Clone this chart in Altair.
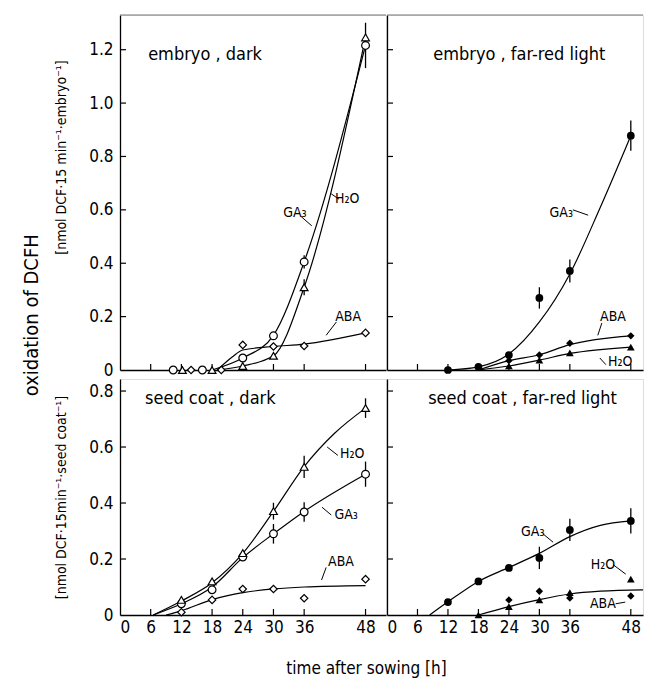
import altair as alt
import pandas as pd

FONT = "Liberation Sans Narrow, DejaVu Sans Condensed, Roboto Condensed, Roboto"

# ---------------- axes ----------------
x_label_values = [0, 6, 12, 18, 24, 30, 36, 48]
x_tick_values = [6, 12, 18, 24, 30, 36, 48]
y_vals_embryo = [0, 0.2, 0.4, 0.6, 0.8, 1.0, 1.2]
y_vals_coat = [0, 0.2, 0.4, 0.6, 0.8]

# ---------------- embryo, dark ----------------
ed_ga3_x = [10.4, 16.1, 24, 30, 36, 48]
ed_ga3_y = [0.0, 0.0, 0.045, 0.128, 0.405, 1.216]
ed_ga3_e = [0, 0, 0, 0, 0.025, 0.085]
ed_h2o_x = [12.2, 18.0, 24, 30, 36, 48]
ed_h2o_y = [0.0, 0.0, 0.015, 0.053, 0.31, 1.246]
ed_h2o_e = [0, 0, 0, 0, 0.03, 0]
ed_aba_x = [13.9, 19.8, 24, 30, 36, 48]
ed_aba_y = [0.0, 0.0, 0.094, 0.088, 0.09, 0.139]
ed_ga3_cx = [18, 24, 30, 36, 48]
ed_ga3_cy = [0.0, 0.045, 0.13, 0.405, 1.216]
ed_h2o_cx = [19, 24, 30, 36, 48]
ed_h2o_cy = [0.0, 0.015, 0.053, 0.31, 1.246]
ed_aba_cx = [19, 22, 24, 30, 36, 48]
ed_aba_cy = [0.0, 0.05, 0.075, 0.088, 0.097, 0.139]
ed_lab_t = ["GA₃", "H₂O", "ABA"]
ed_lab_x = [34.2, 44.4, 44.6]
ed_lab_y = [0.59, 0.64, 0.2]
ed_lead_x = [35.4, 41.3, 42.3]
ed_lead_y = [0.575, 0.66, 0.18]
ed_lead_x2 = [37.5, 42.8, 40.3]
ed_lead_y2 = [0.54, 0.64, 0.13]

# ---------------- embryo, far-red light ----------------
ef_ga3_x = [12, 18, 24, 30, 36, 48]
ef_ga3_y = [0.0, 0.012, 0.056, 0.27, 0.371, 0.878]
ef_ga3_e = [0, 0, 0, 0.04, 0.043, 0.057]
ef_h2o_x = [24, 30, 36, 48]
ef_h2o_y = [0.015, 0.037, 0.064, 0.086]
ef_h2o_e = [0, 0, 0, 0]
ef_aba_x = [24, 30, 36, 48]
ef_aba_y = [0.035, 0.056, 0.10, 0.128]
ef_ga3_cx = [12, 18, 24, 30, 36, 42, 48]
ef_ga3_cy = [0.0, 0.012, 0.06, 0.18, 0.36, 0.61, 0.878]
ef_h2o_cx = [18, 24, 30, 36, 48]
ef_h2o_cy = [0.0, 0.015, 0.037, 0.062, 0.086]
ef_aba_cx = [18, 24, 30, 36, 48]
ef_aba_cy = [0.0, 0.035, 0.057, 0.095, 0.128]
ef_lab_t = ["GA₃", "ABA", "H₂O"]
ef_lab_x = [34.3, 44.5, 45.9]
ef_lab_y = [0.59, 0.2, 0.03]
ef_lead_x = [36.6, 42.3, 41.9]
ef_lead_y = [0.6, 0.176, 0.045]
ef_lead_x2 = [39.6, 41.5, 43.1]
ef_lead_y2 = [0.58, 0.13, 0.02]

# ---------------- seed coat, dark ----------------
sd_ga3_x = [12, 18, 24, 30, 36, 48]
sd_ga3_y = [0.04, 0.09, 0.207, 0.29, 0.368, 0.503]
sd_ga3_e = [0, 0, 0, 0.035, 0.035, 0.045]
sd_h2o_x = [12, 18, 24, 30, 36, 48]
sd_h2o_y = [0.054, 0.12, 0.221, 0.371, 0.529, 0.739]
sd_h2o_e = [0, 0, 0, 0.03, 0.04, 0.035]
sd_aba_x = [12, 18, 24, 30, 36, 48]
sd_aba_y = [0.01, 0.054, 0.093, 0.093, 0.06, 0.128]
sd_ga3_cx = [6.5, 12, 18, 24, 30, 36, 48]
sd_ga3_cy = [0.0, 0.04, 0.10, 0.205, 0.29, 0.37, 0.503]
sd_h2o_cx = [6.5, 12, 18, 24, 30, 36, 42, 48]
sd_h2o_cy = [0.0, 0.05, 0.115, 0.22, 0.37, 0.53, 0.65, 0.739]
sd_aba_cx = [9, 12, 18, 24, 30, 36, 48]
sd_aba_cy = [0.0, 0.015, 0.055, 0.08, 0.093, 0.1, 0.105]
sd_lab_t = ["H₂O", "GA₃", "ABA"]
sd_lab_x = [45.4, 44.2, 43.2]
sd_lab_y = [0.575, 0.357, 0.19]
sd_lead_x = [40.5, 39.5, 40.3]
sd_lead_y = [0.6, 0.385, 0.17]
sd_lead_x2 = [42.6, 41.3, 39.4]
sd_lead_y2 = [0.57, 0.357, 0.125]

# ---------------- seed coat, far-red light ----------------
sf_ga3_x = [12, 18, 24, 30, 36, 48]
sf_ga3_y = [0.046, 0.12, 0.168, 0.204, 0.304, 0.336]
sf_ga3_e = [0, 0, 0, 0.04, 0.04, 0.045]
sf_h2o_x = [18, 24, 30, 36, 48]
sf_h2o_y = [0.0, 0.03, 0.054, 0.08, 0.128]
sf_h2o_e = [0, 0, 0, 0, 0]
sf_aba_x = [24, 30, 36, 48]
sf_aba_y = [0.054, 0.085, 0.061, 0.068]
sf_ga3_cx = [8.4, 12, 18, 24, 30, 36, 42, 48]
sf_ga3_cy = [0.0, 0.047, 0.12, 0.17, 0.22, 0.28, 0.32, 0.336]
sf_mix_cx = [18, 24, 30, 36, 42, 50.4]
sf_mix_cy = [0.0, 0.03, 0.055, 0.075, 0.085, 0.09]
sf_lab_t = ["GA₃", "H₂O", "ABA"]
sf_lab_x = [28.7, 42.5, 42.5]
sf_lab_y = [0.296, 0.18, 0.04]
sf_lead_x = [30.7, 44.5, 45.0]
sf_lead_y = [0.29, 0.18, 0.04]
sf_lead_x2 = [32.7, 47.0, 46.9]
sf_lead_y2 = [0.26, 0.146, 0.046]

# panel titles
panel_titles = ["embryo , dark", "embryo , far-red light", "seed coat , dark", "seed coat , far-red light"]
panel_title_x = [5.5, 9.1, 4.9, 8.1]
panel_title_y = [1.18, 1.18, 0.77, 0.77]

W_LEFT, W_RIGHT = 266, 256
H_TOP, H_BOT = 355, 236
XMAX_LEFT, XMAX_RIGHT = 52.0, 50.4
YMAX_TOP, YMAX_BOT = 1.33, 0.843


def make_panel(series, curves, labels, leaders, title_idx, width, height, xmax, ymax,
               yvals, filled, show_xlab, show_ylab, ytitle=None, ytitle_y=None,
               xtitle=None, top_line=False):
    xaxis_kw = dict(values=x_label_values, labels=show_xlab, ticks=False, grid=False,
                    domainColor="black", domainWidth=1.3, labelPadding=4,
                    labelFontSize=17, labelFont=FONT, labelColor="black")
    if xtitle:
        xaxis_kw.update(title=xtitle, titleFont=FONT, titleFontSize=17,
                        titleFontWeight="normal", titleColor="black",
                        titleX=246, titlePadding=25)
    else:
        xaxis_kw.update(title="")
    yaxis_kw = dict(values=yvals, labels=show_ylab, ticks=False, grid=False,
                    domainColor="black", domainWidth=1.3, labelPadding=7,
                    labelFontSize=17, labelFont=FONT, labelColor="black",
                    labelExpr="datum.value == 0 ? '0' : format(datum.value, '.1f')")
    if ytitle:
        yaxis_kw.update(title=ytitle, titleFont=FONT, titleFontSize=14,
                        titleFontWeight="normal", titleColor="black", titlePadding=20)
        if ytitle_y is not None:
            yaxis_kw.update(titleY=ytitle_y)
    else:
        yaxis_kw.update(title="")

    X = alt.X("x:Q", scale=alt.Scale(domain=[0, xmax], nice=False, zero=False),
              axis=alt.Axis(**xaxis_kw))
    Y = alt.Y("y:Q", scale=alt.Scale(domain=[0, ymax], nice=False, zero=False),
              axis=alt.Axis(**yaxis_kw))

    layers = []
    # inward ticks
    ytk = pd.DataFrame({"y": [v for v in yvals if v > 0]})
    layers.append(alt.Chart(ytk).mark_rule(color="black", strokeWidth=1.2).encode(
        y=Y, x=alt.value(0), x2=alt.value(6)))
    xtk = pd.DataFrame({"x": x_tick_values})
    layers.append(alt.Chart(xtk).mark_rule(color="black", strokeWidth=1.2).encode(
        x=X, y=alt.value(height), y2=alt.value(height - 6)))
    if top_line:
        layers.append(alt.Chart(pd.DataFrame({"x": [0]})).mark_rule(
            color="#777", strokeWidth=1.2).encode(
            y=alt.value(0), x=alt.value(0), x2=alt.value(width)))

    # fitted curves
    rows = []
    for i, (cx, cy) in enumerate(curves):
        rows += [{"x": a, "y": b, "s": i} for a, b in zip(cx, cy)]
    layers.append(alt.Chart(pd.DataFrame(rows)).mark_line(
        color="black", strokeWidth=1.2, interpolate="monotone").encode(
        x=X, y=Y, detail="s:N"))

    # error bars
    erows = []
    for shape, xs, ys, es in series:
        for a, b, e in zip(xs, ys, es):
            if e > 0:
                erows.append({"x": a, "y": b - e, "y2": b + e})
    if erows:
        layers.append(alt.Chart(pd.DataFrame(erows)).mark_rule(
            color="black", strokeWidth=1.3).encode(x=X, y=Y, y2="y2:Q"))

    # points
    for shape, xs, ys, es in series:
        df = pd.DataFrame({"x": xs, "y": ys})
        size = 60 if shape == "circle" else (60 if shape == "triangle-up" else 55)
        if filled:
            mk = alt.Chart(df).mark_point(shape=shape, filled=True, color="black",
                                          size=size, opacity=1)
        else:
            mk = alt.Chart(df).mark_point(shape=shape, filled=True, fill="white",
                                          stroke="black", strokeWidth=1.2,
                                          size=size, opacity=1)
        layers.append(mk.encode(x=X, y=Y))

    # leaders
    lx, ly, lx2, ly2 = leaders
    layers.append(alt.Chart(pd.DataFrame({"x": lx, "y": ly, "x2": lx2, "y2": ly2})).mark_rule(
        color="black", strokeWidth=1).encode(x=X, y=Y, x2="x2:Q", y2="y2:Q"))

    # series labels
    lt, lxx, lyy = labels
    layers.append(alt.Chart(pd.DataFrame({"x": lxx, "y": lyy, "t": lt})).mark_text(
        font=FONT, fontSize=14, color="black", align="center", baseline="middle").encode(
        x=X, y=Y, text="t:N"))

    # panel title
    tdf = pd.DataFrame({"x": [panel_title_x[title_idx]], "y": [panel_title_y[title_idx]],
                        "t": [panel_titles[title_idx]]})
    layers.append(alt.Chart(tdf).mark_text(
        font=FONT, fontSize=18, color="black", align="left", baseline="middle").encode(
        x=X, y=Y, text="t:N"))

    return alt.layer(*layers).properties(width=width, height=height)


p_ed = make_panel(
    [("circle", ed_ga3_x, ed_ga3_y, ed_ga3_e),
     ("triangle-up", ed_h2o_x, ed_h2o_y, ed_h2o_e),
     ("diamond", ed_aba_x, ed_aba_y, [0] * len(ed_aba_x))],
    [(ed_ga3_cx, ed_ga3_cy), (ed_h2o_cx, ed_h2o_cy), (ed_aba_cx, ed_aba_cy)],
    (ed_lab_t, ed_lab_x, ed_lab_y), (ed_lead_x, ed_lead_y, ed_lead_x2, ed_lead_y2),
    0, W_LEFT, H_TOP, XMAX_LEFT, YMAX_TOP, y_vals_embryo, False, False, True,
    ytitle="[nmol DCF·15 min⁻¹·embryo⁻¹]", ytitle_y=142, top_line=True)

p_ef = make_panel(
    [("circle", ef_ga3_x, ef_ga3_y, ef_ga3_e),
     ("triangle-up", ef_h2o_x, ef_h2o_y, ef_h2o_e),
     ("diamond", ef_aba_x, ef_aba_y, [0] * len(ef_aba_x))],
    [(ef_ga3_cx, ef_ga3_cy), (ef_h2o_cx, ef_h2o_cy), (ef_aba_cx, ef_aba_cy)],
    (ef_lab_t, ef_lab_x, ef_lab_y), (ef_lead_x, ef_lead_y, ef_lead_x2, ef_lead_y2),
    1, W_RIGHT, H_TOP, XMAX_RIGHT, YMAX_TOP, y_vals_embryo, True, False, False,
    top_line=True)

p_sd = make_panel(
    [("circle", sd_ga3_x, sd_ga3_y, sd_ga3_e),
     ("triangle-up", sd_h2o_x, sd_h2o_y, sd_h2o_e),
     ("diamond", sd_aba_x, sd_aba_y, [0] * len(sd_aba_x))],
    [(sd_ga3_cx, sd_ga3_cy), (sd_h2o_cx, sd_h2o_cy), (sd_aba_cx, sd_aba_cy)],
    (sd_lab_t, sd_lab_x, sd_lab_y), (sd_lead_x, sd_lead_y, sd_lead_x2, sd_lead_y2),
    2, W_LEFT, H_BOT, XMAX_LEFT, YMAX_BOT, y_vals_coat, False, True, True,
    ytitle="[nmol DCF·15min⁻¹·seed coat⁻¹]", xtitle="time after sowing [h]")

p_sf = make_panel(
    [("circle", sf_ga3_x, sf_ga3_y, sf_ga3_e),
     ("triangle-up", sf_h2o_x, sf_h2o_y, sf_h2o_e),
     ("diamond", sf_aba_x, sf_aba_y, [0] * len(sf_aba_x))],
    [(sf_ga3_cx, sf_ga3_cy), (sf_mix_cx, sf_mix_cy)],
    (sf_lab_t, sf_lab_x, sf_lab_y), (sf_lead_x, sf_lead_y, sf_lead_x2, sf_lead_y2),
    3, W_RIGHT, H_BOT, XMAX_RIGHT, YMAX_BOT, y_vals_coat, True, True, False)

chart = alt.concat(
    p_ed, p_ef, p_sd, p_sf, columns=2,
    spacing={"row": 9, "column": 1}, bounds="flush",
).properties(
    title=alt.TitleParams("oxidation of DCFH", orient="left", anchor="middle",
                          font=FONT, fontSize=20, fontWeight="normal", color="black",
                          offset=12, dx=30),
    padding={"left": 14, "top": 5, "right": 5, "bottom": 5},
).configure_view(stroke=None).configure(background="white")

chart.save("out.html", embed_options={"renderer": "svg", "actions": False})
